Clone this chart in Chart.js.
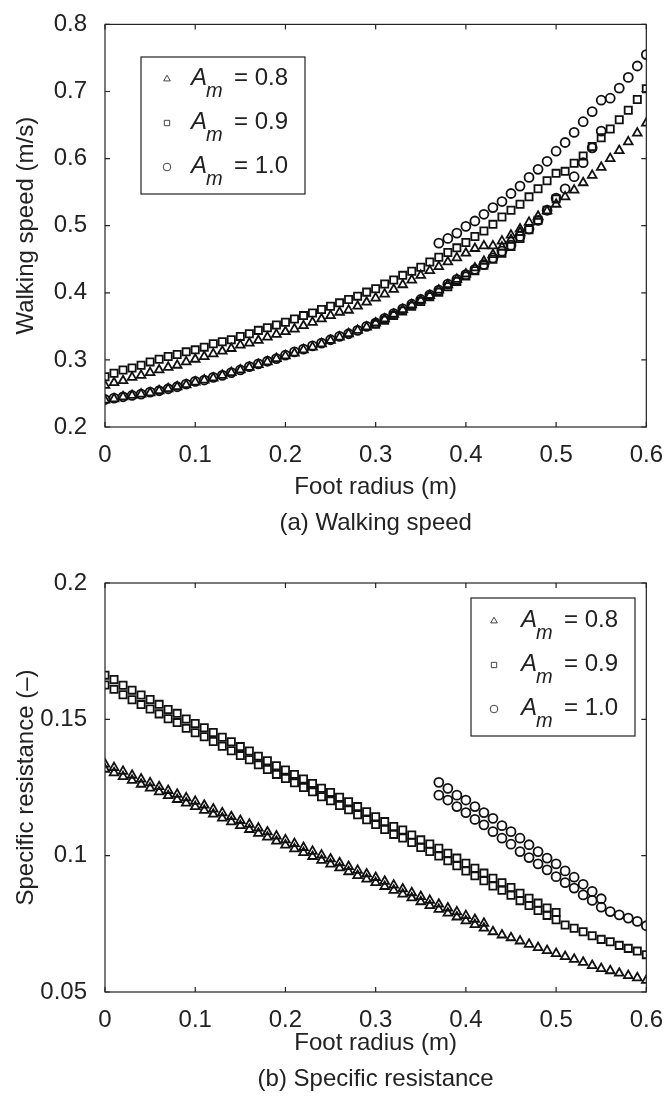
<!DOCTYPE html>
<html>
<head>
<meta charset="utf-8">
<script src="https://cdn.jsdelivr.net/npm/chart.js@4.4.1/dist/chart.umd.min.js"></script>
<style>
  html, body { margin: 0; padding: 0; background: #fff; }
  #wrap { position: relative; width: 669px; height: 1097px; }
  canvas { position: absolute; left: 0; }
  #speedChart { top: 0; }
  #resChart { top: 545px; }
</style>
</head>
<body>
<div id="wrap">
  <canvas id="speedChart" width="669" height="545"></canvas>
  <canvas id="resChart" width="669" height="552"></canvas>
</div>
<script>
// Foot radius grid (m)
const footRadius = [0, 0.01, 0.02, 0.03, 0.04, 0.05, 0.06, 0.07, 0.08, 0.09,
    0.1, 0.11, 0.12, 0.13, 0.14, 0.15, 0.16, 0.17, 0.18, 0.19,
    0.2, 0.21, 0.22, 0.23, 0.24, 0.25, 0.26, 0.27, 0.28, 0.29,
    0.3, 0.31, 0.32, 0.33, 0.34, 0.35, 0.36, 0.37, 0.38, 0.39,
    0.4, 0.41, 0.42, 0.43, 0.44, 0.45, 0.46, 0.47, 0.48, 0.49,
    0.5, 0.51, 0.52, 0.53, 0.54, 0.55, 0.56, 0.57, 0.58, 0.59, 0.6];

const amLabels = ['0.8', '0.9', '1.0'];
const gap = n => Array(n).fill(null);

// (a) walking speed (m/s), two steps per gait cycle
const speed08a = [.262,.266,.269,.274,.277,.281,.285,.289,.292,.297,
    .301,.305,.309,.313,.317,.322,.325,.329,.334,.338,
    .342,.346,.351,.356,.361,.366,.371,.374,.380,.386,
    .392,.398,.405,.412,.419,.426,.433,.439,.446,.452,
    .459,.466,.470,.470,.477,.486,.495,.505,.514,.522,
    .532,.543,.553,.564,.575,.587,.600,.612,.625,.638,.653];
const speed08b = [.240,.242,.245,.247,.249,.251,.254,.257,.260,.263,
    .267,.270,.273,.277,.281,.285,.289,.293,.297,.302,
    .306,.310,.315,.319,.324,.329,.334,.339,.344,.349,
    .355,.361,.368,.375,.382,.389,.396,.404,.412,.420,
    .428,.437,.447,.457,.468,.479,.490, ...gap(14)];
const speed09a = [.275,.280,.285,.288,.292,.297,.301,.305,.308,.312,
    .315,.319,.324,.327,.330,.335,.339,.344,.348,.352,
    .356,.361,.366,.370,.375,.380,.385,.390,.395,.401,
    .406,.413,.419,.426,.432,.438,.446,.453,.460,.467,
    .475,.484,.492,.502,.513,.523,.532,.543,.555,.567,
    .578,.581,.593,.604,.618,.631,.644,.658,.672,.688,.704];
const speed09b = [...gap(30), .353,.359,.366,.373,.380,.387,.394,.401,.409,.417,
    .425,.433,.441,.450,.459,.469,.481,.494,.508,.523,.540, ...gap(10)];
const speed10a = [...gap(37), .474,.481,.489,.499,.507,.517,.527,.536,.548,.559,
    .572,.584,.596,.611,.624,.639,.655,.670,.687,.690,.705,.721,.738,.755];
const speed10b = [.241,.243,.245,.247,.249,.252,.254,.257,.260,.264,
    .268,.270,.274,.277,.281,.285,.290,.294,.298,.302,
    .307,.312,.316,.321,.325,.330,.335,.339,.344,.350,
    .355,.362,.369,.376,.383,.390,.397,.404,.413,.420,
    .427,.435,.442,.452,.462,.471,.484,.495,.508,.523,
    .541,.555,.573,.594,.616,.641, ...gap(5)];

// (b) specific resistance (-)
const res08a = [.1336,.1323,.1309,.1295,.1281,.1267,.1253,.1239,.1225,.1212,
    .1199,.1185,.1171,.1157,.1143,.1129,.1115,.1101,.1087,.1072,
    .1058,.1044,.1030,.1016,.1002,.0988,.0974,.0960,.0946,.0933,
    .0920,.0906,.0892,.0878,.0864,.0850,.0836,.0822,.0808,.0794,
    .0780,.0766,.0752,.0721,.0709,.0699,.0687,.0675,.0663,.0652,
    .0641,.0630,.0620,.0609,.0597,.0586,.0578,.0569,.0560,.0552,.0543];
const res08b = [.1317,.1304,.1290,.1276,.1262,.1248,.1234,.1220,.1206,.1193,
    .1180,.1166,.1152,.1138,.1124,.1110,.1096,.1082,.1068,.1053,
    .1039,.1025,.1011,.0997,.0983,.0969,.0955,.0941,.0927,.0914,
    .0901,.0887,.0873,.0859,.0845,.0831,.0817,.0803,.0789,.0775,
    .0761,.0747,.0734, ...gap(18)];
const res09a = [.1662,.1646,.1625,.1607,.1589,.1573,.1555,.1536,.1522,.1501,
    .1485,.1469,.1452,.1434,.1418,.1400,.1384,.1365,.1348,.1330,
    .1314,.1298,.1281,.1265,.1247,.1232,.1214,.1198,.1180,.1161,
    .1143,.1125,.1107,.1094,.1076,.1058,.1043,.1027,.1009,.0991,
    .0972,.0954,.0936,.0917,.0901,.0883,.0862,.0844,.0826,.0808,
    .0792,.0746,.0734,.0721,.0706,.0693,.0684,.0671,.0660,.0650,.0637];
const res09b = [.1626,.1610,.1590,.1572,.1554,.1538,.1520,.1502,.1488,.1467,
    .1451,.1436,.1419,.1401,.1385,.1367,.1352,.1333,.1316,.1298,
    .1283,.1267,.1250,.1234,.1216,.1201,.1184,.1168,.1150,.1132,
    .1114,.1096,.1078,.1065,.1048,.1030,.1015,.0999,.0981,.0963,
    .0944,.0926,.0908,.0889,.0873,.0855,.0835,.0817,.0799,.0781,
    .0765, ...gap(10)];
const res10a = [...gap(37), .1269,.1247,.1222,.1204,.1180,.1158,.1137,.1110,.1088,.1064,
    .1040,.1015,.0991,.0970,.0944,.0921,.0895,.0869,.0842,
    .0795,.0783,.0771,.0759,.0743];
const res10b = [...gap(37), .1222,.1204,.1180,.1158,.1133,.1113,.1088,.1064,.1042,.1015,
    .0993,.0970,.0948,.0923,.0901,.0881,.0856,.0836,.0811, ...gap(5)];

const FONT = "'Liberation Sans', Arial, Helvetica, sans-serif";
const INK = '#111';
const styles = ['triangle', 'rect', 'circle'];
const radii = { triangle: 5.0, rect: 5.1, circle: 4.5 };

Chart.defaults.font.family = FONT;
Chart.defaults.color = '#222';

const toPoints = vals => footRadius.map((x, i) => ({ x: x, y: vals[i] })).filter(p => p.y !== null);

function markerSet(vals, style) {
    return {
        data: toPoints(vals),
        pointStyle: style,
        pointRadius: radii[style],
        pointHoverRadius: radii[style],
        pointBorderWidth: 1.8,
        borderColor: INK,
        backgroundColor: 'rgba(0,0,0,0)',
        showLine: false
    };
}

// box + inward tick marks on all four sides (MATLAB style)
const frameTicks = {
    id: 'frameTicks',
    afterDatasetsDraw(chart) {
        const { ctx, chartArea: a, scales: { x, y } } = chart;
        const len = 5;
        ctx.save();
        ctx.strokeStyle = '#222';
        ctx.lineWidth = 1.2;
        ctx.beginPath();
        x.ticks.forEach(t => {
            const px = x.getPixelForValue(t.value);
            ctx.moveTo(px, a.bottom); ctx.lineTo(px, a.bottom - len);
            ctx.moveTo(px, a.top); ctx.lineTo(px, a.top + len);
        });
        y.ticks.forEach(t => {
            const py = y.getPixelForValue(t.value);
            ctx.moveTo(a.left, py); ctx.lineTo(a.left + len, py);
            ctx.moveTo(a.right, py); ctx.lineTo(a.right - len, py);
        });
        ctx.stroke();
        ctx.strokeRect(a.left, a.top, a.right - a.left, a.bottom - a.top);
        ctx.restore();
    }
};

// boxed legend with italic A_m labels
const boxLegend = {
    id: 'boxLegend',
    afterDraw(chart, args, opts) {
        const { ctx } = chart;
        const { left, top, width, height, markerX, rows } = opts;
        ctx.save();
        ctx.fillStyle = '#fff';
        ctx.fillRect(left, top, width, height);
        ctx.strokeStyle = '#222';
        ctx.lineWidth = 1.2;
        ctx.strokeRect(left, top, width, height);
        amLabels.forEach((lab, i) => {
            const base = top + rows[i];
            const my = base - 6;
            ctx.strokeStyle = '#444';
            ctx.fillStyle = '#fff';
            ctx.lineWidth = 1;
            if (Chart.helpers && Chart.helpers.drawPoint) {
                Chart.helpers.drawPoint(ctx, { pointStyle: styles[i], radius: 3.8, borderWidth: 1.1 }, left + markerX, my);
            }
            ctx.fillStyle = '#222';
            ctx.textBaseline = 'alphabetic';
            ctx.textAlign = 'left';
            const tx = left + 50;
            ctx.font = 'italic 24px ' + FONT;
            ctx.fillText('A', tx, base);
            ctx.font = 'italic 20px ' + FONT;
            ctx.fillText('m', tx + 15, base + 12);
            ctx.font = '24px ' + FONT;
            ctx.fillText('= ' + lab, tx + 43, base);
        });
        ctx.restore();
    }
};

function axisOpts(min, max, step, title, titlePad) {
    return {
        type: 'linear', min: min, max: max,
        grid: { display: false },
        border: { display: false },
        ticks: { stepSize: step, font: { size: 24 }, color: '#222',
                 callback: v => String(+v.toFixed(2)) },
        title: { display: true, text: title, font: { size: 24 }, color: '#222', padding: titlePad }
    };
}

function makeChart(id, sets, yMin, yMax, yStep, yTitle, xTitle, padTop, xHeight, xTitlePad, legend) {
    const xs = axisOpts(0, 0.6, 0.1, xTitle, xTitlePad);
    xs.ticks.padding = 6;
    xs.ticks.maxRotation = 0;
    xs.title.font.lineHeight = 1.5;
    xs.afterFit = s => { s.height = xHeight; };
    const ys = axisOpts(yMin, yMax, yStep, yTitle, { top: 12, bottom: 0 });
    ys.ticks.padding = 10;
    ys.afterFit = s => { s.width = 105; };
    return new Chart(document.getElementById(id), {
        type: 'scatter',
        data: { datasets: sets },
        options: {
            responsive: false,
            animation: false,
            devicePixelRatio: 1,
            layout: { padding: { top: padTop, right: 19, left: 0, bottom: 0 } },
            plugins: { legend: { display: false }, tooltip: { enabled: false }, boxLegend: legend },
            scales: { x: xs, y: ys }
        },
        plugins: [frameTicks, boxLegend]
    });
}

makeChart('speedChart', [
    markerSet(speed10b, 'circle'),
    markerSet(speed10a, 'circle'),
    markerSet(speed09b, 'rect'),
    markerSet(speed09a, 'rect'),
    markerSet(speed08b, 'triangle'),
    markerSet(speed08a, 'triangle')
], 0.2, 0.8, 0.1, 'Walking speed (m/s)', ['Foot radius (m)', '(a) Walking speed'],
   18, 118, { top: 0, bottom: 4 },
   { left: 141, top: 57, width: 164, height: 137, markerX: 26, rows: [28, 72, 116] });

makeChart('resChart', [
    markerSet(res10b, 'circle'),
    markerSet(res10a, 'circle'),
    markerSet(res09b, 'rect'),
    markerSet(res09a, 'rect'),
    markerSet(res08b, 'triangle'),
    markerSet(res08a, 'triangle')
], 0.05, 0.2, 0.05, 'Specific resistance (–)', ['Foot radius (m)', '(b) Specific resistance'],
   38, 105, { top: 0, bottom: 0 },
   { left: 471, top: 53, width: 164, height: 138, markerX: 23, rows: [29, 73, 117] });
</script>
</body>
</html>
